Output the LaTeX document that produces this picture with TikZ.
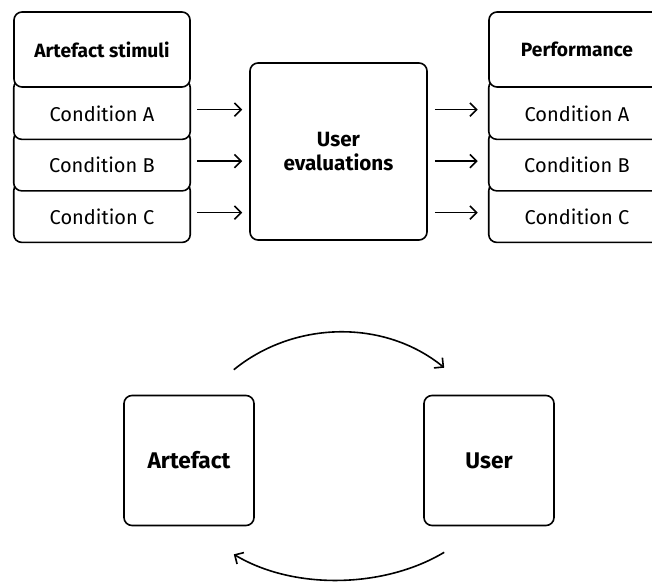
\documentclass[tikz,border=0pt]{standalone}
\usepackage{fontspec}
\setmainfont{Fira Sans}
\usetikzlibrary{positioning,backgrounds,arrows.meta}

\begin{document}
\begin{tikzpicture}
    [x=0.75pt,y=-0.75pt,
     font=\fontsize{15}{19}\selectfont,
     box/.style={draw,line width=1.2pt,fill=white,rounded corners=6pt},
     row/.style={minimum width=132pt,minimum height=38.25pt,inner sep=0pt},
     head/.style={box,row,minimum height=56.25pt,font=\fontsize{14.4}{18}\selectfont\bfseries},
     bigbox/.style={box,minimum size=#1,align=center},
     link/.style={line width=1.2pt,-{Straight Barb[length=5pt,width=10pt]}}]
  \useasboundingbox (0,0) rectangle (652,585);
  \node[head] (stim) at (102,49.5) {Artefact stimuli};
  \node[row,below=0pt of stim] (sA) {Condition A};
  \node[row,below=0pt of sA] (sB) {Condition B};
  \node[row,below=0pt of sB] (sC) {Condition C};
  \node[head] (perf) at (577,49.5) {Performance};
  \node[row,below=0pt of perf] (pA) {Condition A};
  \node[row,below=0pt of pA] (pB) {Condition B};
  \node[row,below=0pt of pB] (pC) {Condition C};
  \node[bigbox=132.75pt,font=\fontsize{15.5}{18}\selectfont\bfseries] (eval) at (338.5,151.5) {User\\evaluations};
  \node[bigbox=97.5pt,font=\fontsize{17}{20}\selectfont\bfseries] (art) at (189,460.5) {Artefact};
  \node[bigbox=97.5pt,font=\fontsize{17}{20}\selectfont\bfseries] (user) at (489,460.5) {User};
  \begin{pgfonlayer}{background}
    \foreach \r in {sC,sB,sA,pC,pB,pA}
      \draw[box] ([yshift=6pt]\r.north west) rectangle (\r.south east);
  \end{pgfonlayer}
  \foreach \r in {A,B,C} {
    \draw[link,shorten <=5.25pt,shorten >=5.25pt]
      ([yshift=3pt]s\r.east) -- ([yshift=3pt]s\r.east -| eval.west);
    \draw[link,shorten <=5.25pt,shorten >=8.25pt]
      ([yshift=3pt]eval.east |- p\r.west) -- ([yshift=3pt]p\r.west);
  }
  \draw[link] ([shift={(-21,-25)}]art.north east)
    .. controls +(60,-49) and +(-60,-49) .. ([shift={(21,-27)}]user.north west);
  \draw[link] ([shift={(21,26)}]user.south west)
    .. controls +(-60,36) and +(60,36) .. ([shift={(-21,28)}]art.south east);
\end{tikzpicture}
\end{document}
